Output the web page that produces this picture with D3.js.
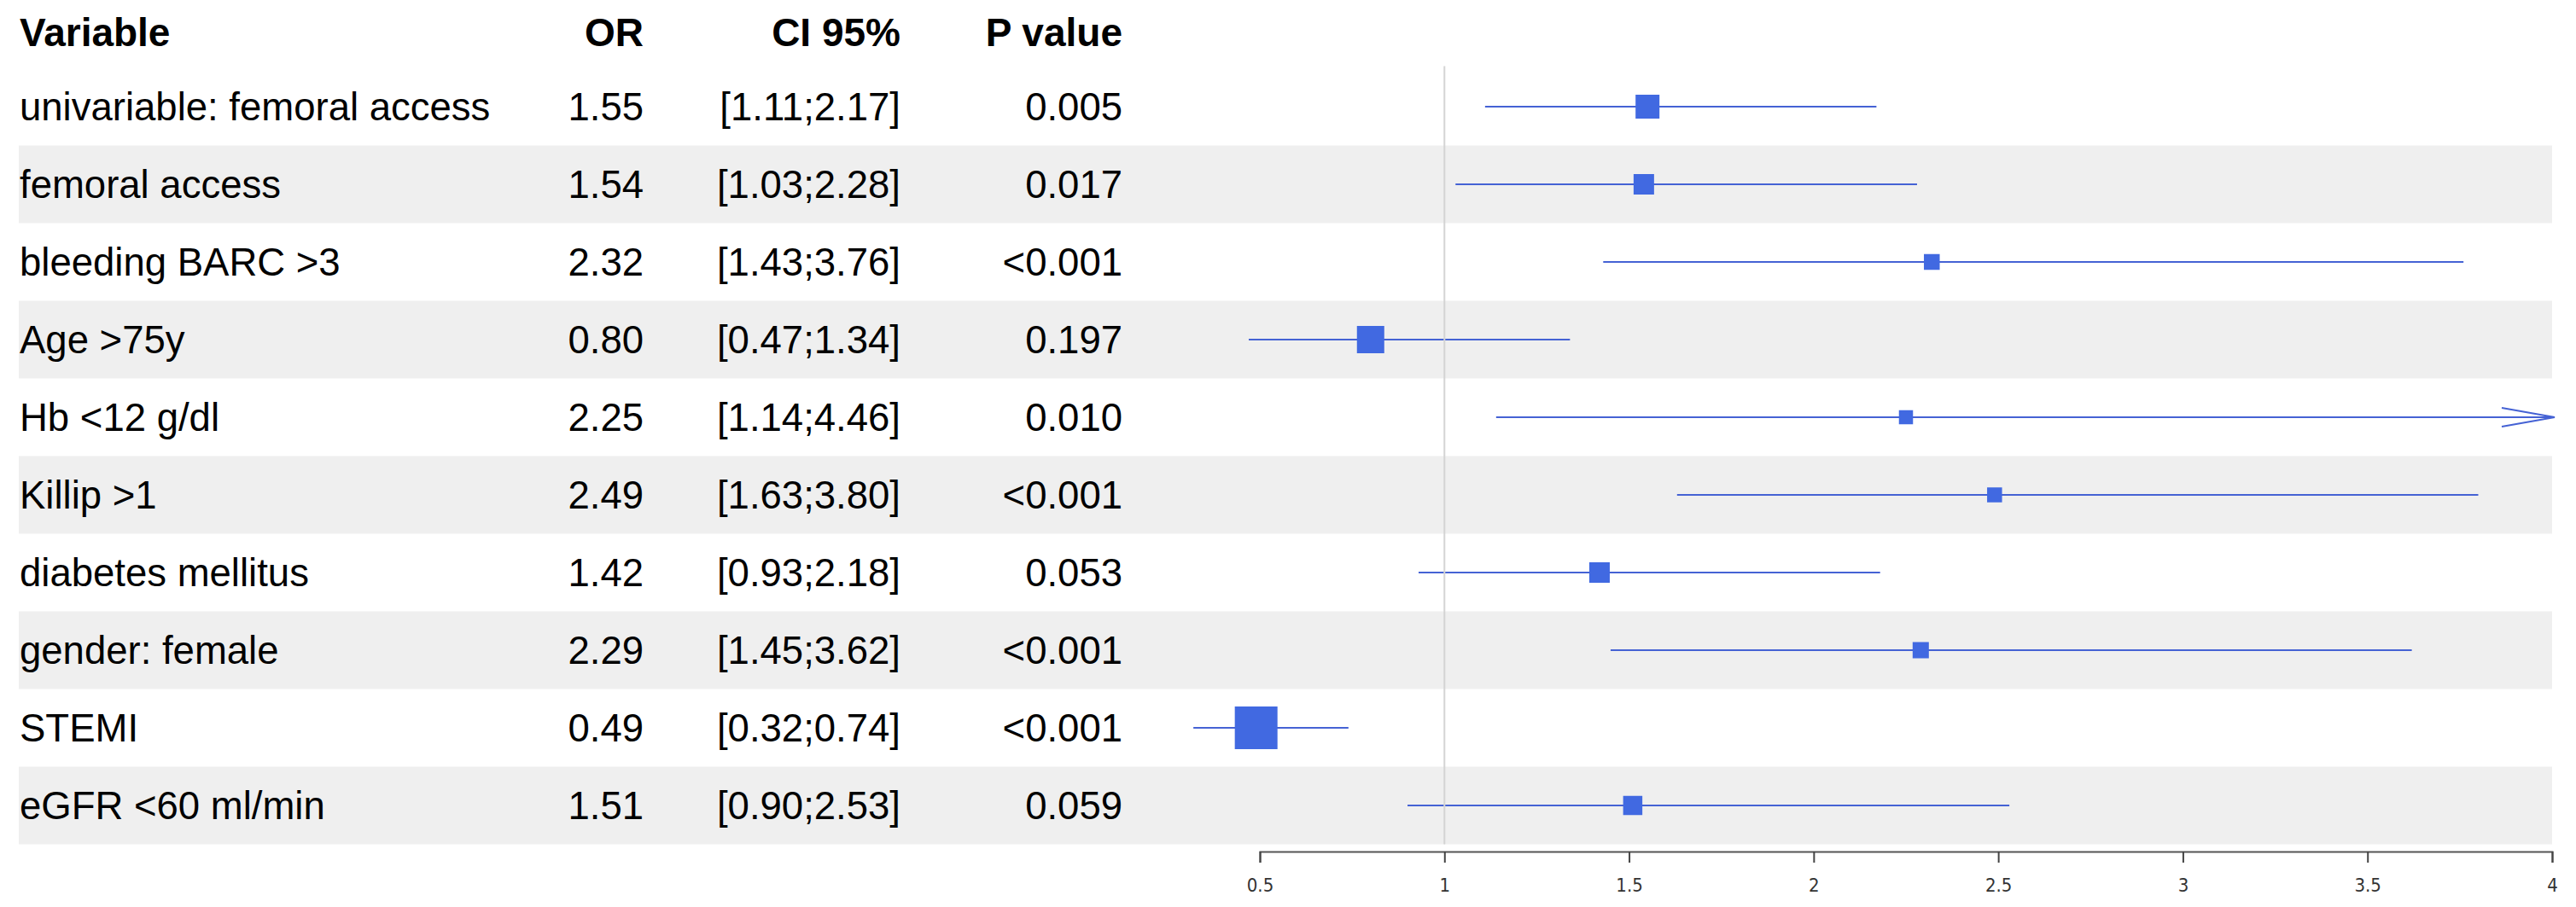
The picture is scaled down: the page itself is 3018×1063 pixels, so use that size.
<!DOCTYPE html>
<html>
<head>
<meta charset="utf-8">
<script src="https://cdn.jsdelivr.net/npm/d3@7"></script>
<style>
  body { margin: 0; background: #ffffff; }
  text { font-family: "Liberation Sans", Arial, sans-serif; }
</style>
</head>
<body>
<div class="forest"></div>
<script>
"use strict";

var variables = ["univariable: femoral access", "femoral access", "bleeding BARC >3", "Age >75y",
                 "Hb <12 g/dl", "Killip >1", "diabetes mellitus", "gender: female", "STEMI", "eGFR <60 ml/min"];
var orValues = [1.55, 1.54, 2.32, 0.80, 2.25, 2.49, 1.42, 2.29, 0.49, 1.51];
var ciLow    = [1.11, 1.03, 1.43, 0.47, 1.14, 1.63, 0.93, 1.45, 0.32, 0.90];
var ciHigh   = [2.17, 2.28, 3.76, 1.34, 4.46, 3.80, 2.18, 3.62, 0.74, 2.53];
var pValues  = ["0.005", "0.017", "<0.001", "0.197", "0.010", "<0.001", "0.053", "<0.001", "<0.001", "0.059"];
// relative box weight
var boxWeight = [0.56, 0.48, 0.37, 0.64, 0.33, 0.35, 0.48, 0.38, 1.00, 0.45];
var headers = ["Variable", "OR", "CI 95%", "P value"];
var ticks = [0.5, 1, 1.5, 2, 2.5, 3, 3.5, 4];

var width = 3018,
    height = 1063;

var svg = d3.select(".forest")
          .append("svg")
          .attr("width", width)
          .attr("height", height);

var rowTop = 79.5,
    rowH = 91;

var y = d3.scaleBand()
    .domain(d3.range(variables.length))
    .range([rowTop, rowTop + rowH * variables.length]);

var x = d3.scaleLinear()
    .domain([0.5, 4])
    .range([1476, 2990]);

var size = d3.scaleLinear()
    .domain([0, 1])
    .range([0, 50]);

var fmt = d3.format(".2f");

// grey bands on every second row
svg.append("g")
    .selectAll("rect")
    .data(d3.range(variables.length).filter(function(i){ return i % 2 === 1; }))
    .enter().append("rect")
        .attr("x", 22)
        .attr("y", function(i){ return y(i); })
        .attr("width", x(4) - 22)
        .attr("height", y.bandwidth())
        .attr("fill", "#efefef");

// header
var colX = [23, 754, 1055, 1315];
svg.append("g")
    .selectAll("text")
    .data(headers)
    .enter().append("text")
        .attr("x", function(d, i){ return colX[i]; })
        .attr("y", 54)
        .attr("text-anchor", function(d, i){ return i === 0 ? "start" : "end"; })
        .style("font-size", "46px")
        .style("font-weight", "bold")
        .attr("fill", "#000")
        .text(function(d){ return d; });

var rows = svg.append("g")
    .selectAll("g")
    .data(d3.range(variables.length))
    .enter().append("g")
        .attr("transform", function(i){ return "translate(0," + (y(i) + y.bandwidth() / 2) + ")"; });

var cells = [
  function(i){ return variables[i]; },
  function(i){ return fmt(orValues[i]); },
  function(i){ return "[" + fmt(ciLow[i]) + ";" + fmt(ciHigh[i]) + "]"; },
  function(i){ return pValues[i]; }
];

cells.forEach(function(f, c){
  rows.append("text")
      .attr("x", colX[c])
      .attr("y", 16)
      .attr("text-anchor", c === 0 ? "start" : "end")
      .style("font-size", "45.5px")
      .attr("fill", "#000")
      .text(f);
});

// reference line at OR = 1
svg.append("line")
    .attr("x1", x(1))
    .attr("x2", x(1))
    .attr("y1", rowTop - 2)
    .attr("y2", y.range()[1])
    .style("stroke", "#d4d4d4")
    .style("stroke-width", "2");

// confidence intervals
rows.append("line")
    .attr("x1", function(i){ return x(ciLow[i]); })
    .attr("x2", function(i){ return x(Math.min(ciHigh[i], 4)); })
    .attr("y1", 0)
    .attr("y2", 0)
    .style("stroke", "#4562d4")
    .style("stroke-width", "2");

// open arrow where the interval runs past the axis
rows.filter(function(i){ return ciHigh[i] > 4; })
    .append("path")
    .attr("d", function(){
      var e = x(4) + 3;
      return "M" + (e - 62) + ",-11L" + e + ",0L" + (e - 62) + ",11";
    })
    .attr("fill", "none")
    .style("stroke", "#4562d4")
    .style("stroke-width", "2");

// boxes
rows.append("rect")
    .attr("x", function(i){ return x(orValues[i]) - size(boxWeight[i]) / 2; })
    .attr("y", function(i){ return -size(boxWeight[i]) / 2; })
    .attr("width", function(i){ return size(boxWeight[i]); })
    .attr("height", function(i){ return size(boxWeight[i]); })
    .attr("fill", "#4169e1");

// x axis
var axis = svg.append("g")
    .attr("transform", "translate(0,998)")
    .call(d3.axisBottom(x)
        .tickValues(ticks)
        .tickFormat(d3.format(""))
        .tickSize(13)
        .tickPadding(18));

axis.select(".domain")
    .style("stroke", "#555")
    .style("stroke-width", "2");
axis.selectAll(".tick line")
    .style("stroke", "#444")
    .style("stroke-width", "2");
axis.selectAll(".tick text")
    .style("font-size", "22px")
    .style("font-family", "'Liberation Sans Narrow', 'DejaVu Sans Condensed', sans-serif")
    .attr("fill", "#333");

</script>
</body>
</html>
